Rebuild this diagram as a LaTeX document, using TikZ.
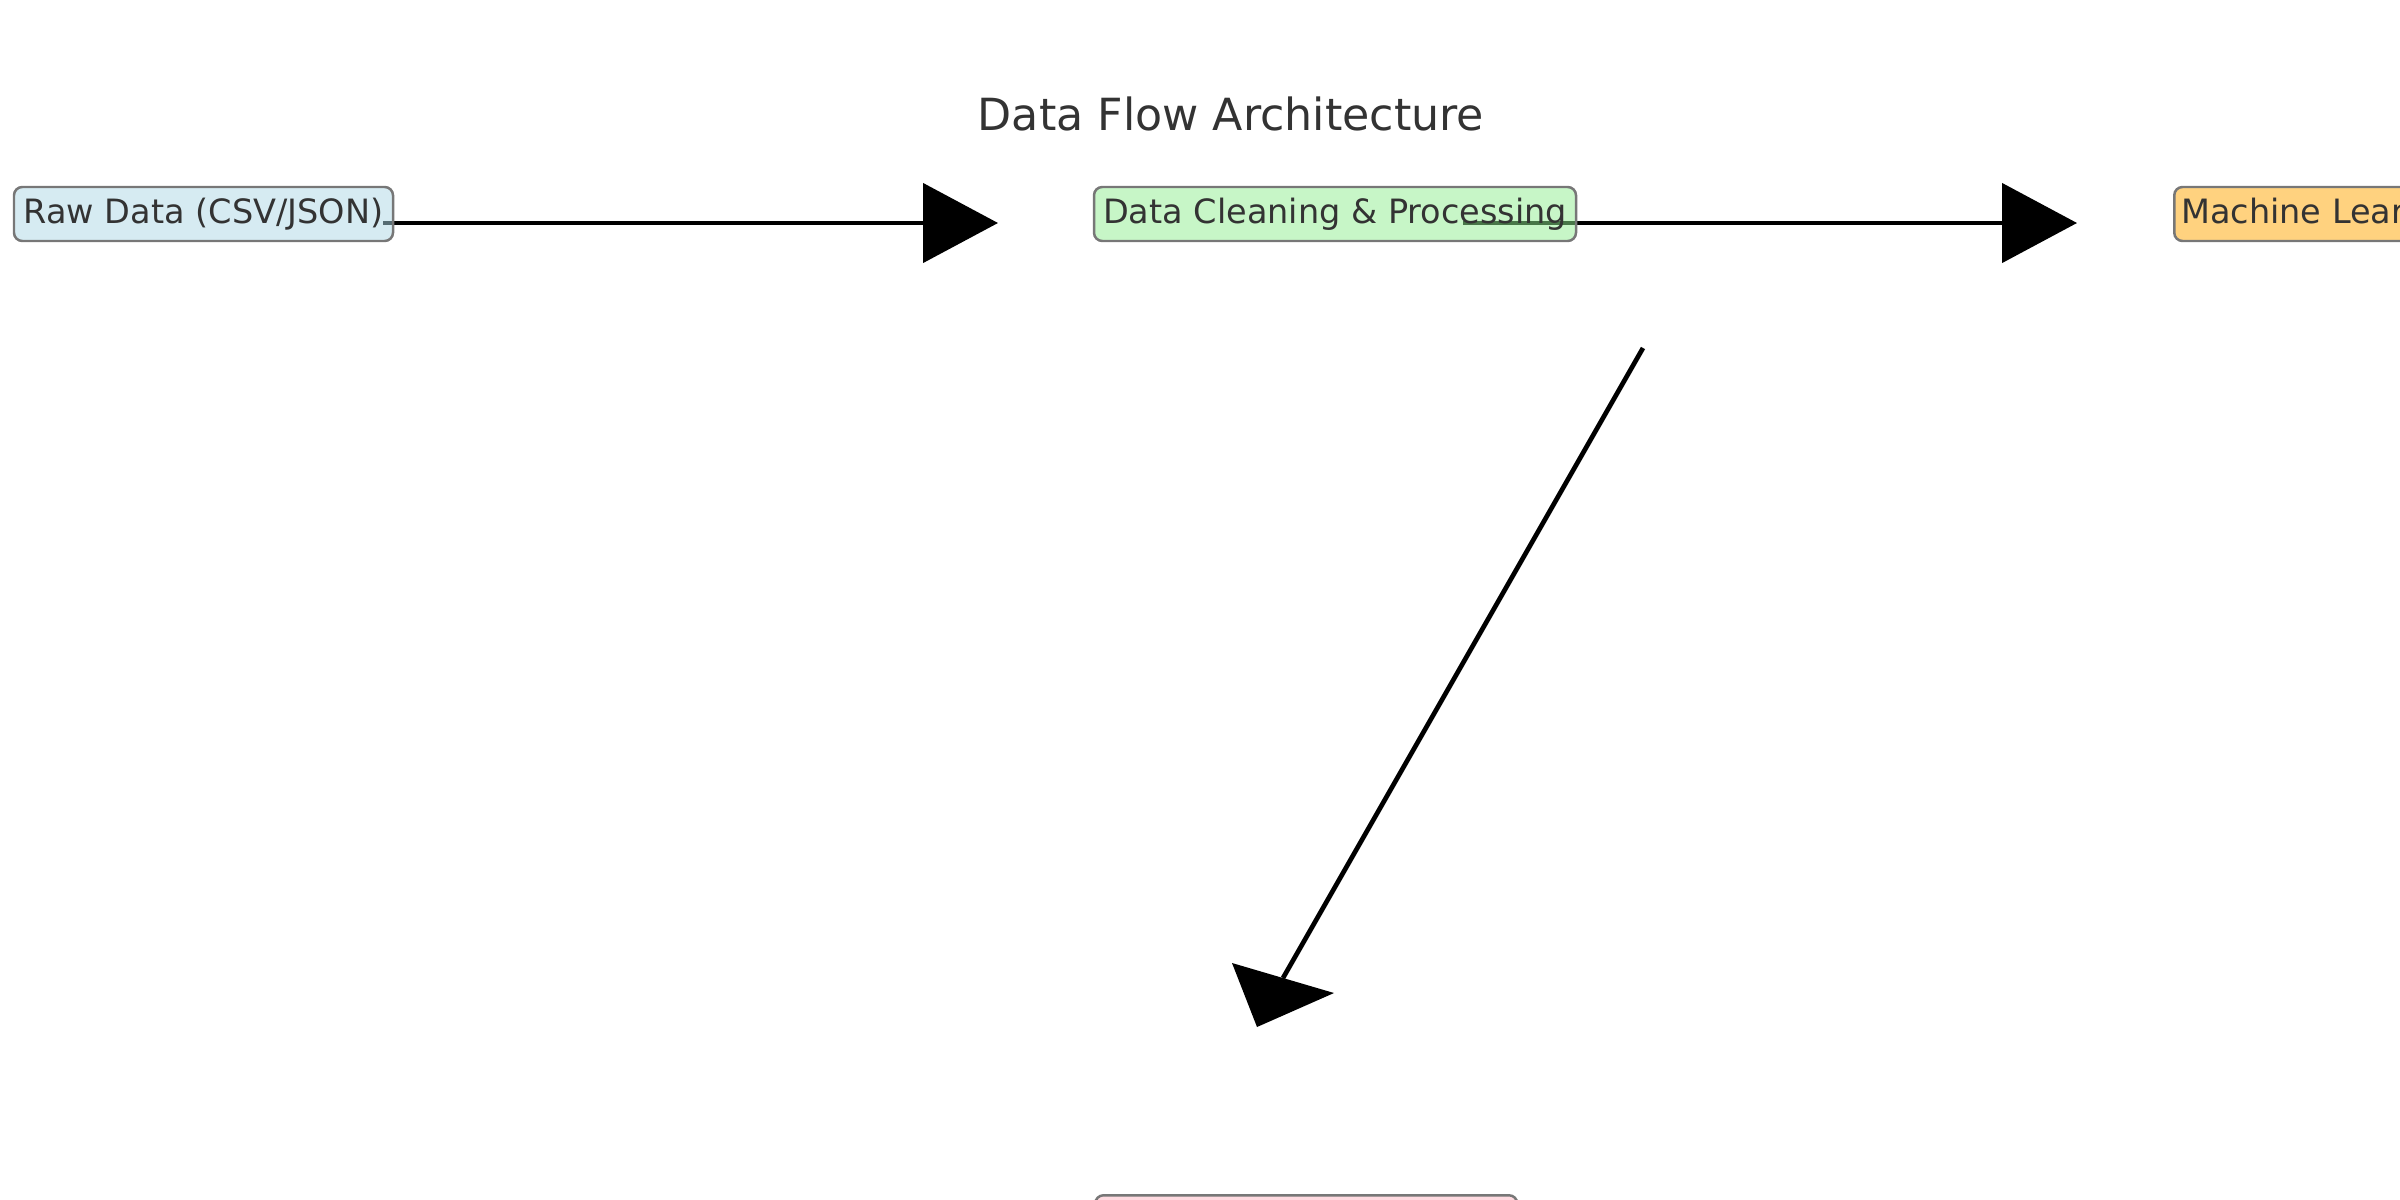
\documentclass[tikz,border=0pt]{standalone}
\usepackage{fontspec}
\setmainfont{DejaVu Sans}
\usetikzlibrary{arrows.meta,backgrounds}
\definecolor{txt}{HTML}{333333}
\definecolor{bord}{HTML}{777777}
\definecolor{cblue}{HTML}{ADD8E6}
\definecolor{cgreen}{HTML}{90EE90}
\definecolor{corange}{HTML}{FFA500}
\definecolor{cpink}{HTML}{FFB6C1}
\tikzset{
  box/.style={draw=bord, line width=1.8pt, rounded corners=6pt, fill opacity=0.5,
    text opacity=1, draw opacity=1, text=txt, font=\fontsize{24.2pt}{28pt}\selectfont,
    minimum height=54*0.01in, inner xsep=7*0.01in, inner ysep=0pt,
    text height=18.4pt, text depth=4.8pt},
  conn/.style={line width=3.4pt, black},
  head/.style={-{Triangle[length=75*0.01in, width=79*0.01in]}},
}
\begin{document}
\begin{tikzpicture}[x=0.01in, y=-0.01in]
\useasboundingbox (0,0) rectangle (2400,1200);
\clip (0,0) rectangle (2400,1200);
\node[text=txt, font=\fontsize{32pt}{38pt}\selectfont, anchor=base] (title) at (1231,130) {Data Flow Architecture};
\node[box, fill=cblue, minimum width=379*0.01in] (raw) at (203.5,214) {Raw Data (CSV/JSON)};
\node[box, fill=cgreen, minimum width=482*0.01in] (clean) at (1335,214) {Data Cleaning \& Processing};
\node[box, fill=corange, anchor=west] (ml) at (2173,214) {Machine Learning Model};
\node[box, fill=cpink, minimum width=422*0.01in, anchor=north west] (viz) at (1094,1194) {};
\coordinate (s1) at (383,223);
\coordinate (t1) at (998,223);
\coordinate (s2) at (1463,223);
\coordinate (t2) at (2077,223);
\coordinate (s3) at (1643,348);
\coordinate (b3) at (1283,978);
\coordinate (h3a) at (1232,963);
\coordinate (h3b) at (1334,993);
\coordinate (h3c) at (1257,1027);
\begin{scope}[on background layer]
\draw[conn, head] (s1) -- (t1);
\draw[conn, head] (s2) -- (t2);
\draw[conn] (s3) -- (b3);
\fill[black] (h3a) -- (h3b) -- (h3c) -- cycle;
\end{scope}
\end{tikzpicture}
\end{document}
